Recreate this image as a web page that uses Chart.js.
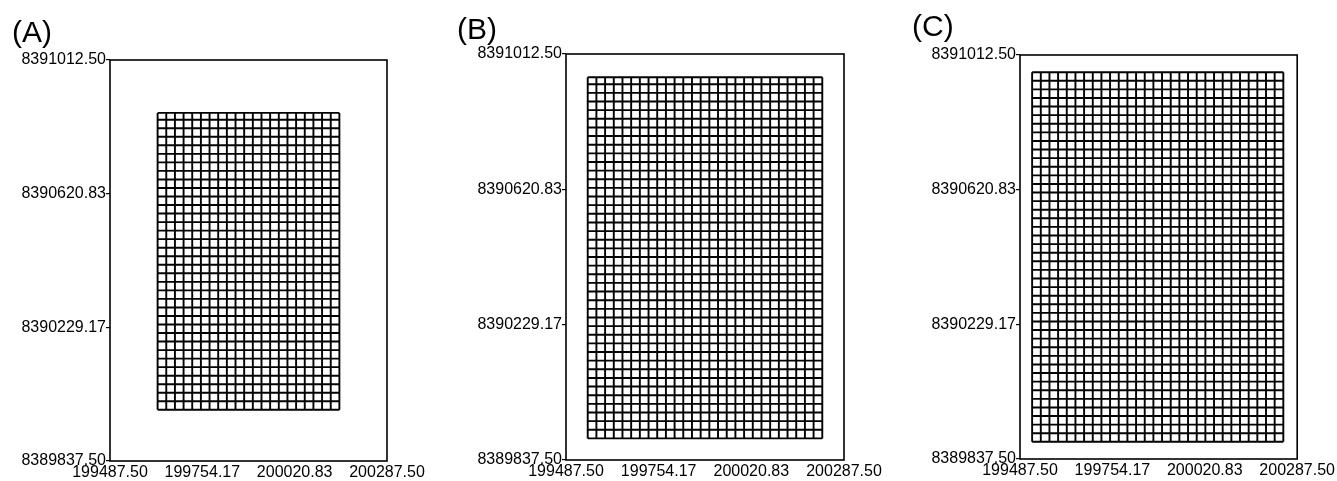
<!DOCTYPE html>
<html>
<head>
<meta charset="utf-8">
<script src="https://cdn.jsdelivr.net/npm/chart.js@4.4.0/dist/chart.umd.min.js"></script>
<style>
  html, body { margin: 0; padding: 0; background: #fff; }
  #wrap { position: relative; width: 1337px; height: 481px; }
  .panel { position: absolute; top: 0; height: 481px; }
</style>
</head>
<body>
<div id="wrap">
  <div class="panel" style="left:0;width:445px"><canvas id="chartA"></canvas></div>
  <div class="panel" style="left:445px;width:445px"><canvas id="chartB"></canvas></div>
  <div class="panel" style="left:890px;width:447px"><canvas id="chartC"></canvas></div>
</div>
<script>
// axis ticks (same extent in every panel)
const xTicks = [199487.50, 199754.17, 200020.83, 200287.50];
const yTicks = [8389837.50, 8390229.17, 8390620.83, 8391012.50];
const panelLabels = ['(A)', '(B)', '(C)'];

// mesh line positions (25 m cells)
const meshAColumns = [199625, 199650, 199675, 199700, 199725, 199750, 199775, 199800, 199825, 199850, 199875,
  199900, 199925, 199950, 199975, 200000, 200025, 200050, 200075, 200100, 200125, 200150];
const meshARows = [8389987.5, 8390012.5, 8390037.5, 8390062.5, 8390087.5, 8390112.5, 8390137.5, 8390162.5,
  8390187.5, 8390212.5, 8390237.5, 8390262.5, 8390287.5, 8390312.5, 8390337.5, 8390362.5, 8390387.5,
  8390412.5, 8390437.5, 8390462.5, 8390487.5, 8390512.5, 8390537.5, 8390562.5, 8390587.5, 8390612.5,
  8390637.5, 8390662.5, 8390687.5, 8390712.5, 8390737.5, 8390762.5, 8390787.5, 8390812.5, 8390837.5, 8390857.5];

const meshBColumns = [199550, 199575, 199600, 199625, 199650, 199675, 199700, 199725, 199750, 199775, 199800,
  199825, 199850, 199875, 199900, 199925, 199950, 199975, 200000, 200025, 200050, 200075, 200100, 200125,
  200150, 200175, 200200, 200225];
const meshBRows = [8389900, 8389925, 8389950, 8389975, 8390000, 8390025, 8390050, 8390075, 8390100, 8390125,
  8390150, 8390175, 8390200, 8390225, 8390250, 8390275, 8390300, 8390325, 8390350, 8390375, 8390400,
  8390425, 8390450, 8390475, 8390500, 8390525, 8390550, 8390575, 8390600, 8390625, 8390650, 8390675,
  8390700, 8390725, 8390750, 8390775, 8390800, 8390825, 8390850, 8390875, 8390900, 8390925, 8390945];

const meshCColumns = [199522.5, 199547.5, 199572.5, 199597.5, 199622.5, 199647.5, 199672.5, 199697.5,
  199722.5, 199747.5, 199772.5, 199797.5, 199822.5, 199847.5, 199872.5, 199897.5, 199922.5, 199947.5,
  199972.5, 199997.5, 200022.5, 200047.5, 200072.5, 200097.5, 200122.5, 200147.5, 200172.5, 200197.5,
  200222.5, 200247.5];
const meshCRows = [8389887.5, 8389912.5, 8389937.5, 8389962.5, 8389987.5, 8390012.5, 8390037.5, 8390062.5,
  8390087.5, 8390112.5, 8390137.5, 8390162.5, 8390187.5, 8390212.5, 8390237.5, 8390262.5, 8390287.5,
  8390312.5, 8390337.5, 8390362.5, 8390387.5, 8390412.5, 8390437.5, 8390462.5, 8390487.5, 8390512.5,
  8390537.5, 8390562.5, 8390587.5, 8390612.5, 8390637.5, 8390662.5, 8390687.5, 8390712.5, 8390737.5,
  8390762.5, 8390787.5, 8390812.5, 8390837.5, 8390862.5, 8390887.5, 8390912.5, 8390937.5, 8390962.5];

const FONT = "'Liberation Sans', Arial, sans-serif";

// box round the plot area
const framePlugin = {
    id: 'frame',
    afterDatasetsDraw(chart) {
        const { ctx, chartArea } = chart;
        ctx.save();
        ctx.strokeStyle = '#000';
        ctx.lineWidth = 1.6;
        ctx.strokeRect(chartArea.left, chartArea.top, chartArea.width, chartArea.height);
        ctx.restore();
    }
};

const meshDatasets = (columns, rows) => {
    const bottom = rows[0];
    const top = rows[rows.length - 1];
    const left = columns[0];
    const right = columns[columns.length - 1];
    const line = (data) => ({
        data,
        showLine: true,
        borderColor: '#000',
        borderWidth: 1.9,
        pointRadius: 0
    });
    return [
        ...columns.map(x => line([{ x, y: bottom }, { x, y: top }])),
        ...rows.map(y => line([{ x: left, y }, { x: right, y }]))
    ];
};

const makeChart = (id, label, columns, rows, box) => {
    new Chart(document.getElementById(id), {
        type: 'scatter',
        data: { datasets: meshDatasets(columns, rows) },
        options: {
            responsive: true,
            maintainAspectRatio: false,
            animation: false,
            events: [],
            layout: { padding: { left: box.padLeft, right: box.padRight, top: 0, bottom: 0 } },
            plugins: {
                legend: { display: false },
                tooltip: { enabled: false },
                title: {
                    display: true,
                    text: label,
                    align: 'start',
                    color: '#000',
                    font: { family: FONT, size: 30, weight: 'normal', lineHeight: 1.2 },
                    padding: { top: box.titleTop, bottom: box.titleBottom }
                }
            },
            scales: {
                x: {
                    type: 'linear',
                    min: xTicks[0],
                    max: xTicks[xTicks.length - 1],
                    border: { display: false },
                    grid: { display: false, drawTicks: false },
                    afterBuildTicks: (scale) => { scale.ticks = xTicks.map(value => ({ value })); },
                    afterFit: (scale) => { scale.height = box.xHeight; },
                    ticks: {
                        autoSkip: false,
                        maxRotation: 0,
                        padding: 2,
                        color: '#000',
                        font: { family: FONT, size: 16 },
                        callback: (value) => value.toFixed(2)
                    }
                },
                y: {
                    type: 'linear',
                    min: yTicks[0],
                    max: yTicks[yTicks.length - 1],
                    border: { display: false },
                    grid: { drawOnChartArea: false, drawTicks: true, tickLength: 4, color: '#000', lineWidth: 1.2 },
                    afterBuildTicks: (scale) => { scale.ticks = yTicks.map(value => ({ value })); },
                    afterFit: (scale) => { scale.width = box.yWidth; },
                    ticks: {
                        autoSkip: false,
                        padding: 0,
                        color: '#000',
                        font: { family: FONT, size: 16 },
                        callback: (value) => value.toFixed(2)
                    }
                }
            }
        },
        plugins: [framePlugin]
    });
};

makeChart('chartA', panelLabels[0], meshAColumns, meshARows,
    { padLeft: 12, padRight: 58, yWidth: 98, xHeight: 20, titleTop: 16, titleBottom: 8 });
makeChart('chartB', panelLabels[1], meshBColumns, meshBRows,
    { padLeft: 12, padRight: 46, yWidth: 109, xHeight: 21, titleTop: 13, titleBottom: 5 });
makeChart('chartC', panelLabels[2], meshCColumns, meshCRows,
    { padLeft: 22, padRight: 39, yWidth: 108, xHeight: 22, titleTop: 10, titleBottom: 9 });
</script>
</body>
</html>
